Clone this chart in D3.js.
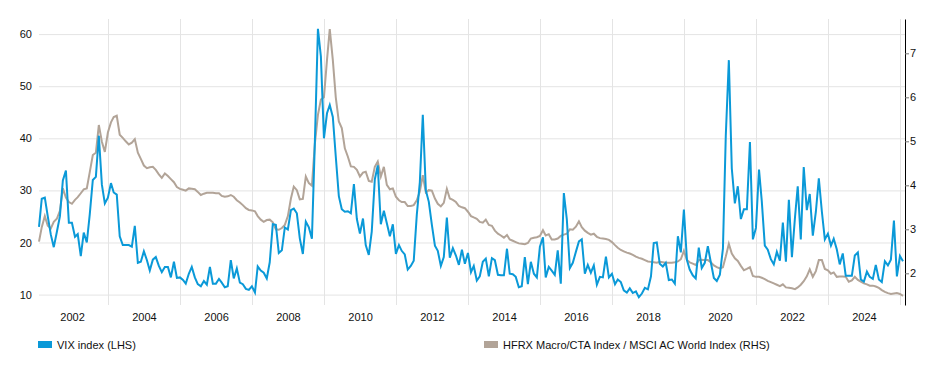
<!DOCTYPE html>
<html>
<head>
<meta charset="utf-8">
<script src="https://cdn.jsdelivr.net/npm/d3@7"></script>
<style>
  body { margin: 0; background: #fff; }
  text { font-family: "Liberation Sans", Arial, sans-serif; }
</style>
</head>
<body>
<div id="chart"></div>
<script>
// monthly data, month-end, starting Jan 2001
var startYear = 2001;

var vixValues = [
  23.0, 28.4, 28.6, 25.0, 21.5, 19.1, 22.0, 25.0, 31.9, 33.8, 23.8, 23.8,
  21.1, 21.6, 17.4, 21.9, 20.0, 25.4, 32.0, 32.6, 40.5, 31.1, 27.5, 28.6,
  31.4, 29.6, 29.2, 21.2, 19.5, 19.5, 19.5, 19.2, 23.2, 16.1, 16.3, 18.3,
  16.6, 14.6, 16.7, 17.2, 15.5, 14.3, 15.3, 15.3, 13.3, 16.3, 13.2, 13.3,
  12.8, 12.1, 14.0, 15.3, 13.3, 12.0, 11.6, 12.6, 11.9, 15.3, 12.1, 12.1,
  13.0, 12.3, 11.4, 11.6, 16.6, 13.1, 15.0, 12.3, 12.0, 11.1, 10.9, 11.6,
  10.4, 15.4, 14.6, 14.2, 13.1, 16.2, 23.5, 23.4, 18.0, 18.5, 22.9, 22.5,
  26.2, 26.5, 25.6, 20.8, 17.8, 24.0, 22.9, 20.7, 39.4, 61.0, 55.7, 40.0,
  44.8, 46.4, 44.1, 36.5, 28.9, 26.4, 25.9, 26.0, 25.6, 31.2, 24.5, 21.7,
  24.6, 19.5, 17.6, 22.1, 32.1, 34.8, 23.5, 26.1, 23.7, 21.2, 23.5, 17.8,
  19.5, 18.4, 17.7, 14.8, 15.5, 16.5, 25.3, 31.6, 44.5, 30.0, 27.8, 23.4,
  19.4, 18.4, 15.5, 17.2, 24.8, 17.1, 18.9, 17.5, 15.7, 18.6, 15.9, 18.0,
  14.3, 15.5, 12.7, 13.5, 16.3, 16.9, 13.5, 17.0, 16.6, 13.8, 13.7, 13.7,
  18.8, 14.0, 13.9, 13.4, 11.4, 11.6, 17.2, 12.0, 16.3, 14.0, 13.3, 19.2,
  21.0, 13.3, 15.3, 14.6, 13.8, 18.5, 12.1, 29.5, 24.5, 15.1, 16.1, 18.2,
  20.2, 20.6, 14.0, 15.7, 14.2, 15.6, 11.9, 13.4, 13.3, 17.3, 13.3, 14.0,
  12.0, 12.9, 12.4, 10.8, 10.4, 11.2, 10.3, 10.6, 9.5, 10.2, 11.3, 11.0,
  13.5, 19.9, 20.0, 15.9, 15.4, 16.1, 12.8, 12.9, 12.1, 21.2, 18.1, 26.3,
  16.6, 14.8, 13.7, 13.1, 19.0, 15.1, 16.1, 19.3, 16.2, 13.2, 12.6, 13.8,
  18.8, 40.5, 55.0, 34.2, 27.5, 30.8, 24.5, 26.4, 26.4, 39.3, 20.6, 22.8,
  34.0, 28.0, 19.4, 18.6, 16.8, 15.8, 18.2, 16.5, 23.8, 16.3, 28.2, 17.2,
  24.8, 30.8, 20.6, 34.5, 26.2, 29.3, 21.3, 25.9, 32.3, 25.9, 20.6, 21.7,
  19.4, 20.7, 18.7, 15.8, 17.9, 13.6, 13.6, 13.6, 17.5, 18.1, 12.9, 12.5,
  14.4, 13.4, 13.0, 15.7, 12.9, 12.4, 16.4, 15.6, 16.7, 24.2, 13.5, 17.4,
  16.4
];

var ratioValues = [
  2.72, 3.05, 3.30, 3.08, 3.02, 3.17, 3.24, 3.42, 3.93, 3.72, 3.62, 3.58,
  3.67, 3.73, 3.82, 3.91, 3.93, 4.30, 4.69, 4.74, 5.37, 4.99, 4.76, 5.20,
  5.43, 5.55, 5.58, 5.15, 5.08, 5.00, 4.93, 4.97, 5.05, 4.74, 4.60, 4.45,
  4.39, 4.41, 4.42, 4.35, 4.25, 4.17, 4.27, 4.21, 4.14, 4.07, 3.96, 3.92,
  3.90, 3.88, 3.93, 3.92, 3.91, 3.85, 3.78, 3.81, 3.83, 3.83, 3.83, 3.82,
  3.82, 3.76, 3.74, 3.75, 3.78, 3.74, 3.66, 3.61, 3.55, 3.48, 3.44, 3.43,
  3.41, 3.30, 3.22, 3.17, 3.21, 3.22, 3.16, 3.00, 2.99, 3.03, 3.10, 3.30,
  3.70, 3.97, 3.89, 3.68, 3.69, 4.20, 4.05, 3.99, 4.95, 5.60, 5.95, 6.00,
  6.85, 7.55, 6.85, 6.00, 5.45, 5.30, 4.84, 4.65, 4.43, 4.42, 4.35, 4.20,
  4.29, 4.31, 4.10, 4.08, 4.42, 4.54, 4.20, 4.42, 4.01, 3.91, 3.93, 3.74,
  3.66, 3.62, 3.62, 3.53, 3.53, 3.55, 3.66, 3.86, 4.23, 3.84, 3.89, 3.88,
  3.70, 3.58, 3.52, 3.60, 3.92, 3.70, 3.67, 3.62, 3.53, 3.50, 3.48, 3.40,
  3.30, 3.27, 3.24, 3.17, 3.15, 3.22, 3.10, 3.08, 2.97, 2.90, 2.86, 2.81,
  2.87, 2.77, 2.74, 2.71, 2.68, 2.67, 2.66, 2.69, 2.79, 2.81, 2.82, 2.85,
  2.98, 2.86, 2.89, 2.77, 2.77, 2.79, 2.85, 2.88, 2.90, 3.00, 2.99, 3.06,
  3.18, 3.05, 2.97, 2.92, 2.88, 2.90, 2.83, 2.80, 2.79, 2.78, 2.76, 2.71,
  2.64, 2.58, 2.53, 2.50, 2.47, 2.45, 2.42, 2.38, 2.35, 2.33, 2.30, 2.27,
  2.26, 2.25, 2.24, 2.26, 2.25, 2.24, 2.24, 2.24, 2.25, 2.27, 2.32, 2.51,
  2.30, 2.25, 2.22, 2.19, 2.30, 2.31, 2.30, 2.30, 2.25, 2.18, 2.14, 2.11,
  2.14, 2.38, 2.67, 2.45, 2.34, 2.28, 2.17, 2.07, 2.10, 2.14, 1.94, 1.92,
  1.92, 1.90, 1.87, 1.83, 1.80, 1.77, 1.74, 1.71, 1.75, 1.68, 1.67, 1.66,
  1.64, 1.68, 1.74, 1.82, 1.93, 2.09, 1.92, 2.05, 2.30, 2.30, 2.10, 2.07,
  1.99, 2.02, 1.92, 1.93, 1.93, 1.92, 1.81, 1.84, 1.92, 1.85, 1.81, 1.77,
  1.75, 1.72, 1.72, 1.70, 1.67, 1.62, 1.58, 1.55, 1.53, 1.54, 1.55, 1.53,
  1.49
];

var yearLabels = [2002, 2004, 2006, 2008, 2010, 2012, 2014, 2016, 2018, 2020, 2022, 2024];
var gridYears = [2003, 2005, 2007, 2009, 2011, 2013, 2015, 2017, 2019, 2021, 2023, 2025];
var leftTicks = [10, 20, 30, 40, 50, 60];
var rightTicks = [2, 3, 4, 5, 6, 7];
var seriesNames = ["VIX index (LHS)", "HFRX Macro/CTA Index / MSCI AC World Index (RHS)"];
var seriesColors = ["#0a99d8", "#b2a498"];

function drawChart() {

    var svgWidth = 950;
    var svgHeight = 381;

    var margin = {
      top: 19,
      bottom: 76,
      right: 45,
      left: 39
    };

    var width = svgWidth - margin.left - margin.right;
    var height = svgHeight - margin.top - margin.bottom;

    var svg = d3
        .select("#chart")
        .append("svg")
        .attr("width", svgWidth)
        .attr("height", svgHeight);

    var chartGroup = svg.append("g")
        .attr("transform", `translate(${margin.left}, ${margin.top})`);

    // month-end dates
    var dates = vixValues.map((d, i) => new Date(Date.UTC(startYear, i + 1, 0)));

    var xTimeScale = d3.scaleUtc()
        .domain([dates[0], dates[dates.length - 1]])
        .range([0, width - 2]);

    var yLeftScale = d3.scaleLinear()
        .domain([8, 62.9])
        .range([height, 0]);

    var yRightScale = d3.scaleLinear()
        .domain([1.28, 7.78])
        .range([height, 0]);

    // horizontal grid + left labels
    var leftAxis = chartGroup.append("g")
        .call(d3.axisLeft(yLeftScale)
            .tickValues(leftTicks)
            .tickSize(-width)
            .tickPadding(7));
    leftAxis.select(".domain").remove();
    leftAxis.selectAll("line").attr("stroke", "#e4e4e4");
    leftAxis.selectAll("text")
        .attr("fill", "#111")
        .style("font-size", "11px");

    // vertical grid on odd years
    var gridAxis = chartGroup.append("g")
        .attr("transform", `translate(0, ${height})`)
        .call(d3.axisBottom(xTimeScale)
            .tickValues(gridYears.map(y => new Date(Date.UTC(y, 0, 1))))
            .tickSize(-height)
            .tickFormat(""));
    gridAxis.select(".domain").remove();
    gridAxis.selectAll("line").attr("stroke", "#e4e4e4");

    // year labels
    var xAxis = chartGroup.append("g")
        .attr("transform", `translate(0, ${height})`)
        .call(d3.axisBottom(xTimeScale)
            .tickValues(yearLabels.map(y => new Date(Date.UTC(y, 0, 1))))
            .tickSize(0)
            .tickPadding(8)
            .tickFormat(d3.utcFormat("%Y")));
    xAxis.select(".domain").remove();
    xAxis.selectAll("text")
        .attr("fill", "#111")
        .style("font-size", "11px");

    // right axis
    var rightAxis = chartGroup.append("g")
        .attr("transform", `translate(${width}, 0)`)
        .call(d3.axisRight(yRightScale)
            .tickValues(rightTicks)
            .tickSize(4)
            .tickSizeOuter(0)
            .tickPadding(1)
            .tickFormat(d3.format("d")));
    rightAxis.select(".domain").attr("stroke", "#000");
    rightAxis.selectAll(".tick line").attr("stroke", "#777");
    rightAxis.selectAll("text")
        .attr("fill", "#111")
        .style("font-size", "11px");

    var ratioLine = d3.line()
        .x((d, i) => xTimeScale(dates[i]))
        .y(d => yRightScale(d));

    var vixLine = d3.line()
        .x((d, i) => xTimeScale(dates[i]))
        .y(d => yLeftScale(d));

    chartGroup.append("path")
        .datum(ratioValues)
        .attr("fill", "none")
        .attr("stroke", seriesColors[1])
        .attr("stroke-width", 2)
        .attr("d", ratioLine);

    chartGroup.append("path")
        .datum(vixValues)
        .attr("fill", "none")
        .attr("stroke", seriesColors[0])
        .attr("stroke-width", 2)
        .attr("d", vixLine);

    // legend
    var legendX = [38, 484];
    var legend = svg.selectAll(".legend")
        .data(seriesNames)
        .enter()
        .append("g")
        .attr("class", "legend")
        .attr("transform", (d, i) => `translate(${legendX[i]}, 341)`);

    legend.append("rect")
        .attr("width", 14)
        .attr("height", 7)
        .attr("fill", (d, i) => seriesColors[i]);

    legend.append("text")
        .attr("x", 19)
        .attr("y", 8)
        .attr("fill", "#111")
        .style("font-size", "11px")
        .text(d => d);
}

drawChart();
</script>
</body>
</html>
